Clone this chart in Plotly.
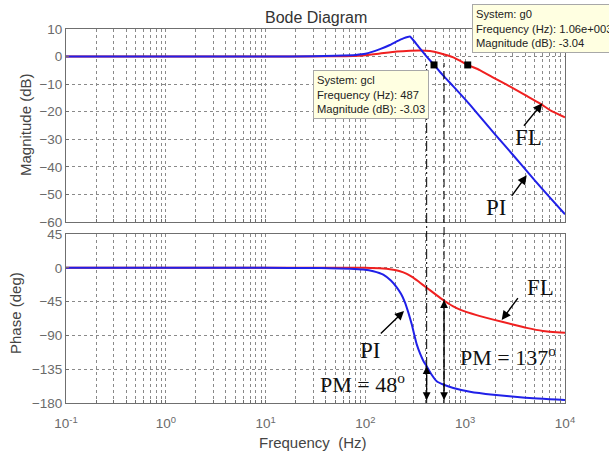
import math
import plotly.graph_objects as go

# ---------------- data ----------------
pi_mag_freq = [0.1, 1, 10, 30, 50, 80, 100, 140, 176, 206, 240, 280, 300, 330, 360,
               411, 487, 560, 650, 760, 1000, 1300, 2000, 3000, 5000, 7000, 10000]
pi_mag_db = [0, 0, 0, 0.1, 0.3, 0.6, 1.0, 2.7, 4.2, 5.5, 6.6, 7.3, 6.1, 4.2, 2.5,
             0.0, -3.03, -5.6, -8.2, -10.8, -15.5, -20.3, -28.3, -35.6, -45.0, -51.0, -57.2]

fl_mag_freq = [0.1, 1, 10, 50, 95, 140, 206, 280, 352, 443, 559, 760, 1060, 1400,
               2000, 2600, 4000, 5600, 7360, 10000]
fl_mag_db = [0, 0, 0, 0.1, 0.4, 1.1, 1.8, 2.1, 2.2, 2.0, 1.2, -0.3, -3.04, -4.9,
             -8.0, -10.2, -14.0, -17.0, -19.8, -22.0]

pi_phase_freq = [0.1, 1, 10, 30, 44, 70, 95, 120, 151, 180, 206, 228, 249, 270, 291,
                 310, 327, 355, 381, 411, 460, 518, 620, 760, 1117, 1914, 4000, 10000]
pi_phase_deg = [0, 0, 0, -0.3, -0.5, -1.2, -2.3, -4.5, -9, -17, -26, -35, -46, -60, -75,
                -90, -102, -115, -124, -131, -142, -151, -156, -160, -165, -169, -173, -176]

fl_phase_freq = [0.1, 1, 10, 100, 150, 176, 222, 260, 302, 350, 411, 500, 628, 750, 900,
                 1300, 1914, 3000, 4130, 6000, 10000]
fl_phase_deg = [0, 0, 0, 0, -1, -2, -4.5, -8, -13, -19.5, -26.5, -35, -44.5, -51, -56,
                -63, -69, -75.5, -80, -84, -86.5]

tip_systems = ["gcl", "g0"]
tip_freqs = [487, 1060]
tip_mags = [-3.03, -3.04]
tip_freq_labels = ["487", "1.06e+003"]

pm_freqs = [411, 614]
pm_phases = [-131, -43]
pm_labels = ["PM = 48<sup>o</sup>", "PM = 137<sup>o</sup>"]

mag_ticks = [10, 0, -10, -20, -30, -40, -50, -60]
phase_ticks = [45, 0, -45, -90, -135, -180]
decades = [-1, 0, 1, 2, 3, 4]

# ---------------- geometry / styles ----------------
W, H = 609, 454
L, R, T, B = 66, 44, 29, 51
PW, PH = W - L - R, H - T - B


def px_x(px):
    return (px - L) / PW


def px_y(py):
    return (H - B - py) / PH


MAG_DOM = [px_y(222), 1.0]
PH_DOM = [0.0, px_y(234)]
BLUE = "#2020e8"
RED = "#f02020"
SANS = "Liberation Sans, Arial, sans-serif"
SERIF = "Liberation Serif, Times New Roman, serif"


def fx(f):
    return (math.log10(f) - decades[0]) / (decades[-1] - decades[0])


def phase_py(p):
    return PH_DOM[0] + (PH_DOM[1] - PH_DOM[0]) * (p - phase_ticks[-1]) / (phase_ticks[0] - phase_ticks[-1])


tickvals = []
ticktext = []
for d in decades:
    for k in range(1, 10):
        if d == decades[-1] and k > 1:
            break
        tickvals.append(k * 10 ** d)
        ticktext.append(f"10<sup>{d}</sup>" if k == 1 else "")

fig = go.Figure()
fig.add_trace(go.Scatter(x=fl_mag_freq, y=fl_mag_db, mode="lines",
                         line=dict(color=RED, width=2, shape="spline", smoothing=0.5),
                         xaxis="x", yaxis="y", showlegend=False))
fig.add_trace(go.Scatter(x=pi_mag_freq, y=pi_mag_db, mode="lines",
                         line=dict(color=BLUE, width=2, shape="spline", smoothing=0.4),
                         xaxis="x", yaxis="y", showlegend=False))
fig.add_trace(go.Scatter(x=tip_freqs, y=tip_mags, mode="markers",
                         marker=dict(symbol="square", size=7, color="black"),
                         xaxis="x", yaxis="y", showlegend=False))
fig.add_trace(go.Scatter(x=fl_phase_freq, y=fl_phase_deg, mode="lines",
                         line=dict(color=RED, width=2, shape="spline", smoothing=0.4),
                         xaxis="x2", yaxis="y2", showlegend=False))
fig.add_trace(go.Scatter(x=pi_phase_freq, y=pi_phase_deg, mode="lines",
                         line=dict(color=BLUE, width=2, shape="spline", smoothing=0.4),
                         xaxis="x2", yaxis="y2", showlegend=False))

axis_common = dict(showgrid=True, gridcolor="#8a8a8a", griddash="dot", gridwidth=1,
                   showline=True, mirror=True, linecolor="#6f6f6f", linewidth=1,
                   ticks="inside", ticklen=3, tickcolor="#6f6f6f", zeroline=False,
                   tickfont=dict(family=SANS, size=13.5, color="#6a6a6a"))

fig.update_layout(
    width=W, height=H, autosize=False,
    margin=dict(l=L, r=R, t=T, b=B),
    paper_bgcolor="white", plot_bgcolor="white",
    xaxis=dict(type="log", range=[decades[0], decades[-1]], domain=[0, 1], anchor="y",
               matches="x2", tickvals=tickvals, ticktext=ticktext, showticklabels=False,
               **axis_common),
    yaxis=dict(range=[mag_ticks[-1], mag_ticks[0]], domain=MAG_DOM, anchor="x",
               tickvals=mag_ticks, **axis_common),
    xaxis2=dict(type="log", range=[decades[0], decades[-1]], domain=[0, 1], anchor="y2",
                tickvals=tickvals, ticktext=ticktext, showticklabels=True,
                ticklabelstandoff=8, **axis_common),
    yaxis2=dict(range=[phase_ticks[-1], phase_ticks[0]], domain=PH_DOM, anchor="x2",
                tickvals=phase_ticks, **axis_common),
)

# vertical reference lines through both panels
dashes = ["10px,3px,2px,3px", "8px,4px"]
for f, dsh in zip(pm_freqs, dashes):
    fig.add_shape(type="line", xref="paper", yref="paper", x0=fx(f), x1=fx(f),
                  y0=0, y1=px_y(63), line=dict(color="black", width=1, dash=dsh),
                  layer="above")

ann = []


def text_ann(txt, cx, cy, font, angle=0):
    return dict(text=txt, x=px_x(cx), y=px_y(cy), xref="paper", yref="paper",
                xanchor="center", yanchor="middle", textangle=angle,
                showarrow=False, font=font)


# title & axis titles
ann.append(text_ann("Bode Diagram", 316, 17, dict(family=SANS, size=16, color="#333")))
ann.append(text_ann("Magnitude (dB)", 25, 125, dict(family=SANS, size=15, color="#444"), -90))
ann.append(text_ann("Phase (deg)", 15, 313, dict(family=SANS, size=15, color="#444"), -90))
ann.append(text_ann("Frequency  (Hz)", 313, 442, dict(family=SANS, size=15, color="#444")))

# data tips
tip_pos = [(313, 70), (472, 4)]
for sysname, flab, mag, (bx, by) in zip(tip_systems, tip_freq_labels, tip_mags, tip_pos):
    ann.append(dict(text=f"System: {sysname}<br>Frequency (Hz): {flab}<br>Magnitude (dB): {mag:.2f}",
                    x=px_x(bx), y=px_y(by), xref="paper", yref="paper", xanchor="left",
                    yanchor="top", align="left", showarrow=False, bgcolor="#ffffe1",
                    bordercolor="#a8a8a8", borderwidth=1, borderpad=3,
                    font=dict(family=SANS, size=11.2, color="#222")))

# phase margin double arrows
ppd = (PH_DOM[1] - PH_DOM[0]) * PH / (phase_ticks[0] - phase_ticks[-1])
for f, p in zip(pm_freqs, pm_phases):
    ann.append(dict(text="", x=fx(f), y=phase_py(p), xref="paper", yref="paper",
                    ax=0, ay=(p - phase_ticks[-1]) * ppd - 1.5, axref="pixel", ayref="pixel",
                    showarrow=True, arrowhead=2, startarrowhead=2, arrowside="end+start",
                    arrowsize=1.3, startarrowsize=1.3, arrowwidth=1.2, arrowcolor="black",
                    standoff=0, startstandoff=0))

# pointer arrows (head px, tail offset)
pointers = [((542.3, 103.3), (-19.6, 24)), ((526.7, 175.3), (-16, 22)),
            ((501.7, 320), (17.3, -23.3)), ((404, 311), (-24.7, 24))]
for (hx, hy), (ox, oy) in pointers:
    ann.append(dict(text="", x=px_x(hx), y=px_y(hy), xref="paper", yref="paper",
                    ax=ox, ay=oy, showarrow=True, arrowhead=2, arrowsize=1.3,
                    arrowwidth=1.4, arrowcolor="black", standoff=0))

labels = [("FL", 528, 137, 23), ("PI", 496, 207, 23), ("FL", 540, 287, 23),
          ("PI", 370, 350, 23), (pm_labels[1], 508, 356, 22), (pm_labels[0], 362, 383, 22)]
for txt, cx, cy, sz in labels:
    ann.append(text_ann(txt, cx, cy, dict(family=SERIF, size=sz, color="#111")))

fig.update_layout(annotations=ann)
fig.write_html("out.html")
